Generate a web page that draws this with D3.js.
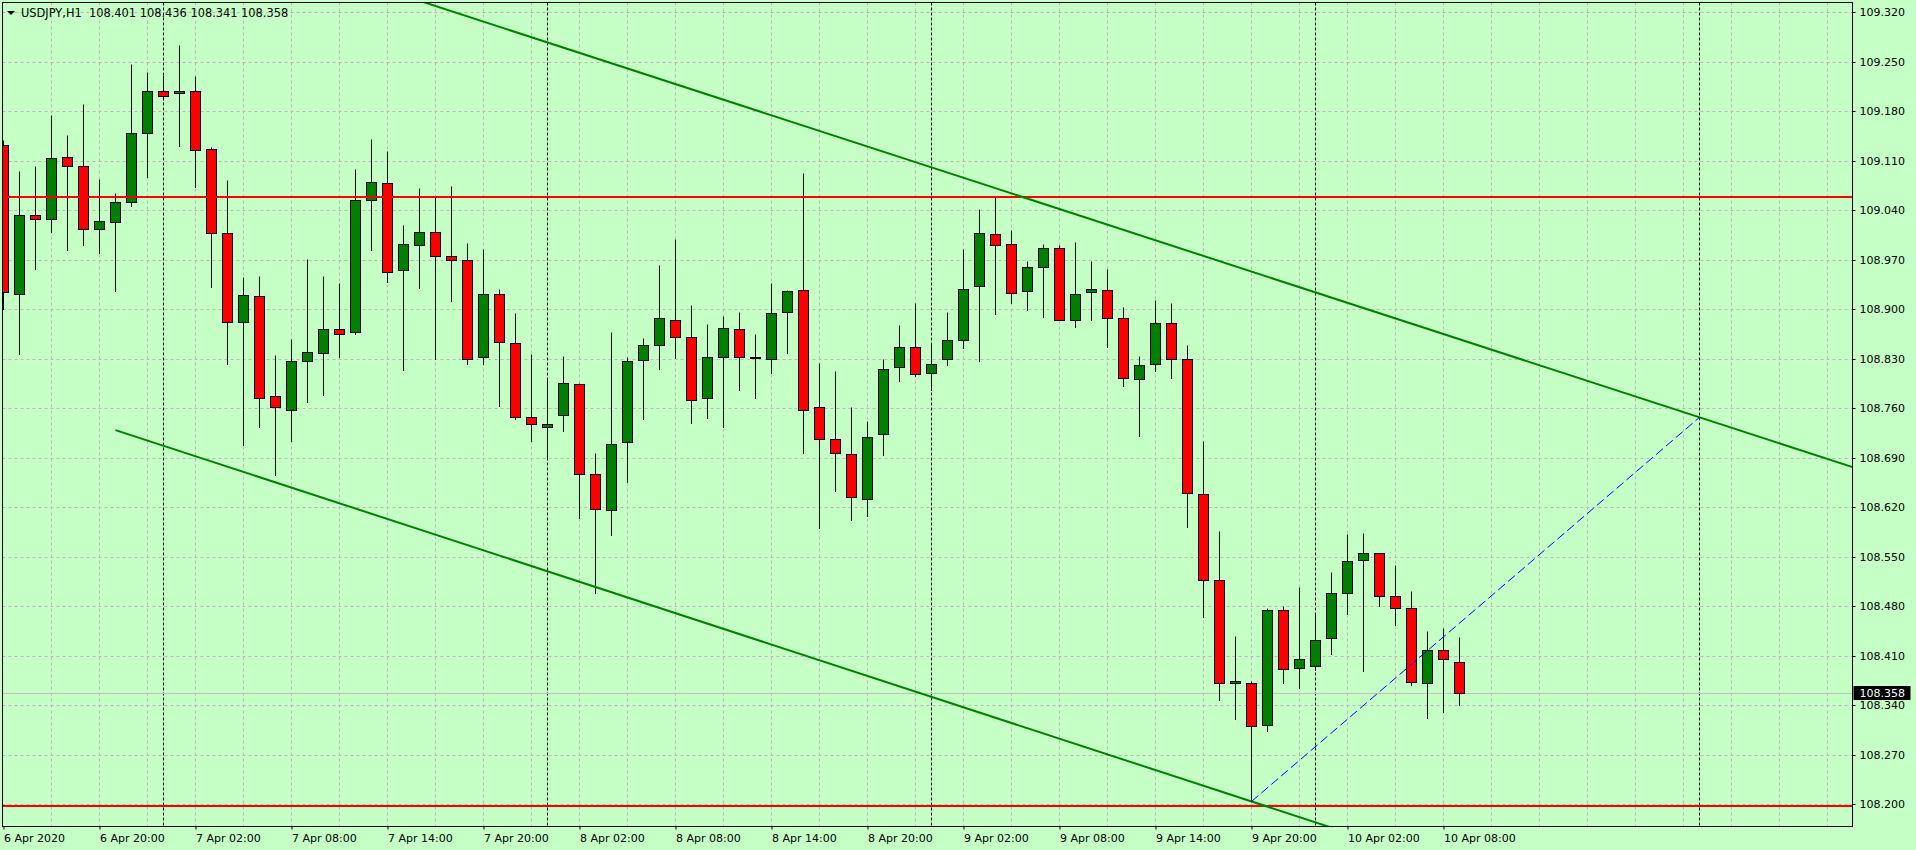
<!DOCTYPE html>
<html>
<head>
<meta charset="utf-8">
<script src="https://cdn.jsdelivr.net/npm/d3@7/dist/d3.min.js"></script>
<style>
  body { margin: 0; background: #c6ffc6; overflow: hidden; }
  svg { display: block; }
  text { font-family: "DejaVu Sans", Tahoma, sans-serif; font-size: 11px; fill: #000; }
</style>
</head>
<body>
<script>
var symbol = "USDJPY,H1";
var firstBar = Date.UTC(2020, 3, 6, 14); // 6 Apr 2020 14:00, one bar per hour

var opens = [109.132, 108.922, 109.033, 109.027, 109.115, 109.103, 109.013, 109.023, 109.051, 109.149,
  109.208, 109.205, 109.209, 109.126, 109.007, 108.882, 108.918, 108.777, 108.757, 108.826,
  108.838, 108.872, 108.868, 109.054, 109.078, 108.955, 108.990, 109.009, 108.975, 108.970,
  108.833, 108.922, 108.852, 108.747, 108.734, 108.751, 108.794, 108.667, 108.616, 108.712,
  108.828, 108.849, 108.884, 108.860, 108.774, 108.833, 108.872, 108.832, 108.830, 108.896,
  108.927, 108.761, 108.716, 108.695, 108.631, 108.724, 108.818, 108.847, 108.809, 108.829,
  108.857, 108.932, 109.006, 108.992, 108.925, 108.959, 108.987, 108.885, 108.924, 108.927,
  108.888, 108.801, 108.822, 108.880, 108.830, 108.638, 108.517, 108.372, 108.372, 108.312,
  108.474, 108.392, 108.396, 108.435, 108.498, 108.545, 108.555, 108.495, 108.478, 108.371,
  108.418, 108.401];
var highs = [109.139, 109.095, 109.102, 109.174, 109.146, 109.190, 109.084, 109.064, 109.247, 109.235,
  109.231, 109.273, 109.230, 109.129, 109.083, 108.945, 108.947, 108.835, 108.858, 108.971,
  108.947, 108.937, 109.098, 109.140, 109.124, 109.019, 109.071, 109.060, 109.074, 108.993,
  108.985, 108.928, 108.894, 108.837, 108.803, 108.834, 108.796, 108.696, 108.867, 108.833,
  108.859, 108.962, 108.999, 108.906, 108.879, 108.890, 108.896, 108.865, 108.937, 108.927,
  109.092, 108.824, 108.812, 108.762, 108.742, 108.830, 108.878, 108.909, 108.851, 108.896,
  108.985, 109.042, 109.060, 109.012, 108.968, 108.992, 108.991, 108.995, 108.968, 108.957,
  108.903, 108.834, 108.913, 108.909, 108.849, 108.714, 108.586, 108.438, 108.375, 108.478,
  108.481, 108.507, 108.469, 108.528, 108.582, 108.584, 108.555, 108.538, 108.502, 108.445,
  108.449, 108.436];
var lows = [108.900, 108.836, 108.957, 109.009, 108.983, 108.991, 108.980, 108.925, 109.046, 109.087,
  109.200, 109.131, 109.072, 108.931, 108.823, 108.708, 108.734, 108.666, 108.713, 108.768,
  108.778, 108.833, 108.865, 108.983, 108.939, 108.814, 108.930, 108.829, 108.912, 108.822,
  108.823, 108.763, 108.745, 108.714, 108.688, 108.727, 108.605, 108.498, 108.580, 108.656,
  108.744, 108.816, 108.831, 108.739, 108.746, 108.734, 108.785, 108.775, 108.810, 108.838,
  108.696, 108.591, 108.643, 108.602, 108.608, 108.694, 108.799, 108.805, 108.785, 108.821,
  108.845, 108.826, 108.893, 108.909, 108.899, 108.889, 108.885, 108.875, 108.885, 108.847,
  108.792, 108.720, 108.812, 108.802, 108.592, 108.465, 108.347, 108.321, 108.204, 108.303,
  108.372, 108.365, 108.390, 108.413, 108.469, 108.389, 108.480, 108.454, 108.369, 108.322,
  108.331, 108.341];
var closes = [108.924, 109.033, 109.028, 109.113, 109.102, 109.013, 109.024, 109.052, 109.149, 109.208,
  109.201, 109.208, 109.125, 109.007, 108.882, 108.920, 108.775, 108.761, 108.826, 108.839,
  108.872, 108.865, 109.054, 109.079, 108.952, 108.992, 109.009, 108.975, 108.970, 108.829,
  108.922, 108.853, 108.747, 108.737, 108.738, 108.795, 108.667, 108.617, 108.710, 108.826,
  108.849, 108.887, 108.860, 108.772, 108.833, 108.874, 108.833, 108.833, 108.894, 108.925,
  108.758, 108.716, 108.696, 108.634, 108.719, 108.816, 108.846, 108.808, 108.822, 108.856,
  108.929, 109.007, 108.990, 108.923, 108.959, 108.987, 108.885, 108.922, 108.928, 108.887,
  108.802, 108.821, 108.880, 108.829, 108.640, 108.517, 108.372, 108.375, 108.310, 108.474,
  108.391, 108.406, 108.432, 108.498, 108.544, 108.555, 108.495, 108.478, 108.373, 108.418,
  108.406, 108.358];

var priceTicks = [108.200, 108.270, 108.340, 108.410, 108.480, 108.550, 108.620, 108.690, 108.760,
  108.830, 108.900, 108.970, 109.040, 109.110, 109.180, 109.250, 109.320];
var hLevels = [109.059, 108.197];
var upperLine = [[20, 109.380], [106, 108.747]]; // [bar, price], ray
var lowerLine = [[7, 108.729], [78, 108.204]];   // ray
var blueLine = [[78, 108.204], [106, 108.747]];  // segment
var bid = 108.358;

var W = 1916, H = 850;
var LEFT = 2.5, TOP = 2.5, RIGHT = 1852.5, BOTTOM = 826.5;
var BAR = 16;

var bars = opens.map(function (o, i) {
  return { i: i, t: new Date(firstBar + i * 3600e3), o: o, h: highs[i], l: lows[i], c: closes[i] };
});
var lastBar = Math.floor((RIGHT - 3.5) / BAR);

var x = d3.scaleLinear().domain([0, 100]).range([3.5, 3.5 + 100 * BAR]);
var y = d3.scaleLinear().domain([108.2, 109.32]).range([804.3, 12]);
var py = function (p) { return Math.round(y(p)) + 0.5; };

var svg = d3.select("body").append("svg").attr("width", W).attr("height", H);
svg.append("rect").attr("width", W).attr("height", H).attr("fill", "#c6ffc6");
svg.append("clipPath").attr("id", "plot")
  .append("rect").attr("x", LEFT).attr("y", TOP).attr("width", RIGHT - LEFT).attr("height", BOTTOM - TOP);

var plot = svg.append("g").attr("clip-path", "url(#plot)");

// grid
plot.selectAll("hgrid").data(priceTicks).enter().append("line")
  .attr("x1", LEFT).attr("x2", RIGHT)
  .attr("y1", py).attr("y2", py)
  .attr("stroke", "#bdb4bd").attr("stroke-dasharray", "3,3");
plot.selectAll("vgrid").data(d3.range(3, lastBar + 1, 3)).enter().append("line")
  .attr("x1", x).attr("x2", x)
  .attr("y1", TOP).attr("y2", BOTTOM)
  .attr("stroke", "#bdb4bd").attr("stroke-dasharray", "3,3");

// day separators
var dayBars = d3.range(0, lastBar + 1).filter(function (i) {
  return new Date(firstBar + i * 3600e3).getUTCHours() === 0;
});
plot.selectAll("sep").data(dayBars).enter().append("line")
  .attr("x1", x).attr("x2", x)
  .attr("y1", TOP).attr("y2", BOTTOM)
  .attr("stroke", "#000").attr("stroke-dasharray", "3,2");

// bid line
plot.append("line")
  .attr("x1", LEFT).attr("x2", RIGHT)
  .attr("y1", py(bid)).attr("y2", py(bid))
  .attr("stroke", "#c0c0c0");

// candles
var candles = plot.selectAll("candle").data(bars).enter().append("g");
candles.append("line")
  .attr("x1", function (d) { return x(d.i); })
  .attr("x2", function (d) { return x(d.i); })
  .attr("y1", function (d) { return py(d.h); })
  .attr("y2", function (d) { return py(d.l) + 0.5; })
  .attr("stroke", "#000");
candles.append("rect")
  .attr("x", function (d) { return x(d.i) - 5; })
  .attr("y", function (d) { return py(Math.max(d.o, d.c)); })
  .attr("width", 10)
  .attr("height", function (d) { return Math.max(py(Math.min(d.o, d.c)) - py(Math.max(d.o, d.c)), 1); })
  .attr("fill", function (d) { return d.c > d.o ? "#008000" : "#ff0000"; })
  .attr("stroke", "#000");

// objects
var lineAt = function (pts, b) {
  return pts[0][1] + (pts[1][1] - pts[0][1]) * (b - pts[0][0]) / (pts[1][0] - pts[0][0]);
};
plot.selectAll("hlevel").data(hLevels).enter().append("line")
  .attr("x1", LEFT).attr("x2", RIGHT)
  .attr("y1", function (d) { return Math.round(y(d)); })
  .attr("y2", function (d) { return Math.round(y(d)); })
  .attr("stroke", "#ff0000").attr("stroke-width", 2);
[upperLine, lowerLine].forEach(function (pts) {
  plot.append("line")
    .attr("x1", x(pts[0][0])).attr("y1", y(pts[0][1]))
    .attr("x2", x(130)).attr("y2", y(lineAt(pts, 130)))
    .attr("stroke", "#008000").attr("stroke-width", 2);
});
plot.append("line")
  .attr("x1", x(blueLine[0][0])).attr("y1", y(blueLine[0][1]))
  .attr("x2", x(blueLine[1][0])).attr("y2", y(blueLine[1][1]))
  .attr("stroke", "#0000ff").attr("stroke-dasharray", "9,4");

// frame
svg.append("rect")
  .attr("x", LEFT).attr("y", TOP).attr("width", RIGHT - LEFT).attr("height", BOTTOM - TOP)
  .attr("fill", "none").attr("stroke", "#000");

// price axis
var yAxis = d3.axisRight(y).tickValues(priceTicks).tickFormat(d3.format(".3f"))
  .tickSize(3).tickSizeOuter(0).tickPadding(4);
var gy = svg.append("g").attr("transform", "translate(" + RIGHT + ",0)").call(yAxis);
gy.select(".domain").remove();
gy.selectAll(".tick").attr("transform", function (d) { return "translate(0," + py(d) + ")"; });
gy.selectAll("text").attr("font-family", null).attr("font-size", null).attr("fill", "#000");
gy.selectAll("line").attr("stroke", "#000");

// bid label
svg.append("rect").attr("x", RIGHT + 1).attr("y", py(bid) - 7.5).attr("width", 57).attr("height", 14).attr("fill", "#000");
svg.append("text").attr("x", RIGHT + 7).attr("y", py(bid)).attr("dy", "0.32em")
  .style("fill", "#fff").text(d3.format(".3f")(bid));

// time axis
var labelBars = [0].concat(d3.range(6, bars.length, 6));
var fmtFirst = d3.utcFormat("%-d %b %Y"), fmtTime = d3.utcFormat("%-d %b %H:%M");
var xAxis = d3.axisBottom(x).tickValues(labelBars)
  .tickFormat(function (i) {
    var t = new Date(firstBar + i * 3600e3);
    return i === 0 ? fmtFirst(t) : fmtTime(t);
  })
  .tickSize(3).tickSizeOuter(0).tickPadding(5);
var gx = svg.append("g").attr("transform", "translate(0," + BOTTOM + ")").call(xAxis);
gx.select(".domain").remove();
gx.selectAll("text").attr("font-family", null).attr("font-size", null)
  .attr("text-anchor", "start").attr("fill", "#000");
gx.selectAll("line").attr("stroke", "#000");

// header
svg.append("path").attr("d", "M7,11 L15,11 L11,15 Z").attr("fill", "#000");
svg.append("text").attr("x", 21).attr("y", 17)
  .attr("xml:space", "preserve")
  .style("font-size", "11.4px")
  .text(symbol + "  " + d3.format(".3f")(opens[opens.length - 1]) + " " +
    d3.format(".3f")(highs[highs.length - 1]) + " " +
    d3.format(".3f")(lows[lows.length - 1]) + " " +
    d3.format(".3f")(closes[closes.length - 1]));
</script>
</body>
</html>
